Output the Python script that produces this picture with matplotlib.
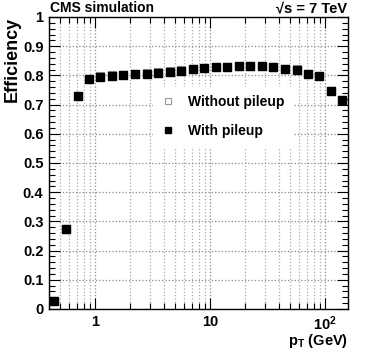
import matplotlib
matplotlib.use("Agg")
import matplotlib.pyplot as plt
from matplotlib.ticker import FixedLocator, MultipleLocator, LogLocator, NullFormatter

plt.rcParams["font.family"] = ["Liberation Sans", "DejaVu Sans"]
plt.rcParams["font.weight"] = "bold"
plt.rcParams["mathtext.fontset"] = "custom"
plt.rcParams["mathtext.rm"] = "Liberation Sans:bold"
plt.rcParams["mathtext.bf"] = "Liberation Sans:bold"
plt.rcParams["mathtext.it"] = "Liberation Sans:bold"

# bin centres in pT (GeV)
pt = [0.443, 0.556, 0.707, 0.887, 1.11, 1.40, 1.76, 2.23, 2.82, 3.53,
      4.46, 5.63, 7.08, 8.87, 11.2, 14.1, 17.8, 22.4, 28.2, 35.5,
      44.9, 56.7, 70.8, 89.1, 112.7, 141.3]
eff_with_pu = [0.027, 0.274, 0.729, 0.787, 0.796, 0.799, 0.801, 0.804, 0.806, 0.809,
               0.813, 0.816, 0.822, 0.825, 0.828, 0.829, 0.831, 0.832, 0.831, 0.828,
               0.822, 0.820, 0.805, 0.797, 0.747, 0.715]
eff_no_pu = [0.027, 0.274, 0.730, 0.788, 0.797, 0.800, 0.802, 0.805, 0.807, 0.810,
             0.814, 0.817, 0.823, 0.826, 0.829, 0.830, 0.832, 0.833, 0.832, 0.829,
             0.823, 0.821, 0.806, 0.798, 0.748, 0.716]
y_labels = ["0", "0.1", "0.2", "0.3", "0.4", "0.5", "0.6", "0.7", "0.8", "0.9", "1"]
x_labels = ["1", "10", r"$10^{2}$"]

fig = plt.figure(figsize=(3.74, 3.55), dpi=100)
ax = fig.add_axes([49 / 374, 1 - 309 / 355, 299 / 374, 292 / 355])

ax.plot(pt, eff_no_pu, ls="none", marker="s", ms=6.0, mfc="white", mec="#999999",
        mew=0.8, label="Without pileup", zorder=3)
ax.plot(pt, eff_with_pu, ls="none", marker="s", ms=5.3, mfc="black", mec="black",
        label="With pileup", zorder=4)

ax.set_xscale("log")
ax.set_xlim(0.398, 158.5)
ax.set_ylim(0, 1)

ax.xaxis.set_major_locator(FixedLocator([1, 10, 100]))
ax.xaxis.set_minor_locator(LogLocator(base=10, subs=range(2, 10), numticks=20))
ax.xaxis.set_minor_formatter(NullFormatter())
ax.set_xticklabels(x_labels)
ax.set_yticks([i / 10 for i in range(11)])
ax.set_yticklabels(y_labels)
ax.yaxis.set_minor_locator(MultipleLocator(0.02))

ax.grid(True, which="major", ls=":", color="#888888", lw=0.9)
ax.grid(True, which="minor", axis="x", ls=":", color="#aaaaaa", lw=0.9)
ax.set_axisbelow(True)

ax.tick_params(which="both", direction="in", top=True, right=True, labelsize=10.5,
               width=0.8, pad=4)
ax.tick_params(which="major", length=8)
ax.tick_params(which="minor", length=4)
for lab in ax.get_xticklabels() + ax.get_yticklabels():
    lab.set_fontweight("bold")
for s in ax.spines.values():
    s.set_linewidth(1.0)

leg = ax.legend(loc="upper left", bbox_to_anchor=(104 / 299, (309 - 87) / 292),
                borderaxespad=0, frameon=True, fancybox=False, edgecolor="white",
                facecolor="white", framealpha=1, prop={"weight": "bold", "size": 10},
                borderpad=0.6, labelspacing=1.05,
                handlelength=1.0, handletextpad=0.9, markerscale=0.8)

fig.text(50 / 374, 1 - 8 / 355, "CMS simulation", fontsize=10, fontweight="bold",
         va="center", ha="left")
fig.text(347 / 374, 1 - 8 / 355, "√s = 7 TeV", fontsize=10.5, fontweight="bold",
         va="center", ha="right")
fig.text(12 / 374, 1 - 17 / 355, "Efficiency", fontsize=13, fontweight="bold",
         rotation=90, va="top", ha="center")
fig.text(348 / 374, 1 - 341 / 355, r"p$_\mathrm{T}$ (GeV)", fontsize=10.5,
         fontweight="bold", va="center", ha="right")

fig.savefig("out.png", dpi=100)
